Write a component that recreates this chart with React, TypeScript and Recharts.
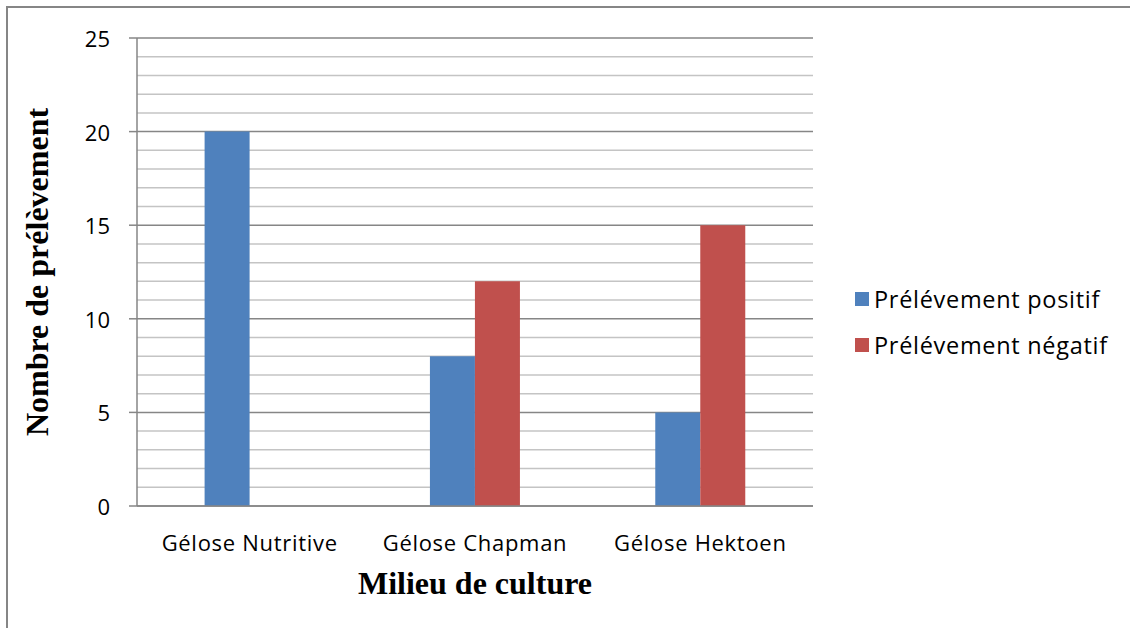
import { Bar, BarChart, CartesianGrid, XAxis, YAxis } from 'recharts'

const CATEGORIES = ['Gélose Nutritive', 'Gélose Chapman', 'Gélose Hektoen']
const POSITIVE = [20, 8, 5]
const NEGATIVE = [0, 12, 15]
const Y_TICKS = [0, 1, 2, 3, 4, 5, 6, 7, 8, 9, 10, 11, 12, 13, 14, 15, 16, 17, 18, 19, 20, 21, 22, 23, 24, 25]
const MAJOR_STEP = 5
const SERIES = [
  { key: 'positif', label: 'Prélévement positif', color: '#4F81BD' },
  { key: 'negatif', label: 'Prélévement négatif', color: '#C0504D' },
]

const data = CATEGORIES.map((name, i) => ({ name, positif: POSITIVE[i], negatif: NEGATIVE[i] }))

const SANS = '"Open Sans", sans-serif'
const SERIF = '"Liberation Serif", "Times New Roman", serif'
const AXIS_GREY = '#868686'
const MINOR_GREY = '#C4C4C4'
const TICK_SIZE = 8
const TICK_MARGIN = 19

function YTick({ x, y, payload }: any) {
  if (payload.value % MAJOR_STEP !== 0) return null
  const axisX = x + TICK_MARGIN + TICK_SIZE
  return (
    <g>
      <line x1={axisX - TICK_SIZE} x2={axisX} y1={y} y2={y} stroke={AXIS_GREY} strokeWidth={1.5} />
      <text x={x} y={y} textAnchor="end" dominantBaseline="central" fill="#000" fontSize={22} fontFamily={SANS}>
        {payload.value}
      </text>
    </g>
  )
}

function GridLine(props: any) {
  const { x1, x2, y1, y2, index } = props
  const major = Y_TICKS[index] % MAJOR_STEP === 0
  return <line x1={x1} x2={x2} y1={y1} y2={y2} stroke={major ? AXIS_GREY : MINOR_GREY} strokeWidth={1.5} />
}

function LegendBox() {
  return (
    <div style={{ position: 'absolute', left: 855, top: 276, fontFamily: SANS, fontSize: 23.5, letterSpacing: 0.7, color: '#000' }}>
      {SERIES.map((s) => (
        <div key={s.key} style={{ display: 'flex', alignItems: 'center', height: 46, whiteSpace: 'nowrap' }}>
          <span style={{ width: 14, height: 14, background: s.color, marginRight: 5, flex: 'none' }} />
          <span>{s.label}</span>
        </div>
      ))}
    </div>
  )
}

export default function App() {
  return (
    <div style={{ position: 'fixed', left: 0, top: 0, width: 1130, height: 628, background: '#fff', overflow: 'hidden', fontFamily: SANS }}>
      <div
        style={{
          position: 'absolute',
          left: 6,
          top: 6,
          width: 1200,
          height: 700,
          borderLeft: `2px solid ${AXIS_GREY}`,
          borderTop: `2px solid ${AXIS_GREY}`,
        }}
      />
      <div style={{ position: 'absolute', left: 0, top: 0 }}>
        <BarChart
          width={1130}
          height={628}
          data={data}
          margin={{ top: 38, right: 317, bottom: 0, left: 0 }}
          barCategoryGap="30%"
          barGap={0}
        >
          <CartesianGrid vertical={false} horizontal={(p: any) => <GridLine key={p.key} {...p} />} />
          <XAxis
            dataKey="name"
            tickLine={false}
            tickSize={0}
            tickMargin={29}
            axisLine={{ stroke: AXIS_GREY, strokeWidth: 1.5 }}
            tick={{ fill: '#000', fontSize: 22, fontFamily: SANS, letterSpacing: 0.7 }}
            height={122}
            label={({ viewBox }: any) => (
              <text
                x={viewBox.x + viewBox.width / 2}
                y={viewBox.y + 88}
                textAnchor="middle"
                fontFamily={SERIF}
                fontWeight="bold"
                fontSize={32}
                fill="#000"
              >
                Milieu de culture
              </text>
            )}
          />
          <YAxis
            domain={[0, 25]}
            ticks={Y_TICKS}
            interval={0}
            width={137}
            tickSize={TICK_SIZE}
            tickMargin={TICK_MARGIN}
            axisLine={{ stroke: AXIS_GREY, strokeWidth: 1.5 }}
            tickLine={false}
            tick={<YTick />}
            label={({ viewBox }: any) => {
              const cx = viewBox.x + 37
              const cy = viewBox.y + viewBox.height / 2
              return (
                <text
                  x={cx}
                  y={cy}
                  transform={`rotate(-90, ${cx}, ${cy})`}
                  textAnchor="middle"
                  dominantBaseline="central"
                  fontFamily={SERIF}
                  fontWeight="bold"
                  fontSize={32}
                  fill="#000"
                >
                  Nombre de prélèvement
                </text>
              )
            }}
          />
          {SERIES.map((s) => (
            <Bar key={s.key} dataKey={s.key} name={s.label} fill={s.color} isAnimationActive={false} />
          ))}
        </BarChart>
      </div>
      <LegendBox />
      <div style={{ position: 'absolute', left: 1114, top: 10, width: 16, height: 618, background: '#fff', zIndex: 10 }} />
    </div>
  )
}
